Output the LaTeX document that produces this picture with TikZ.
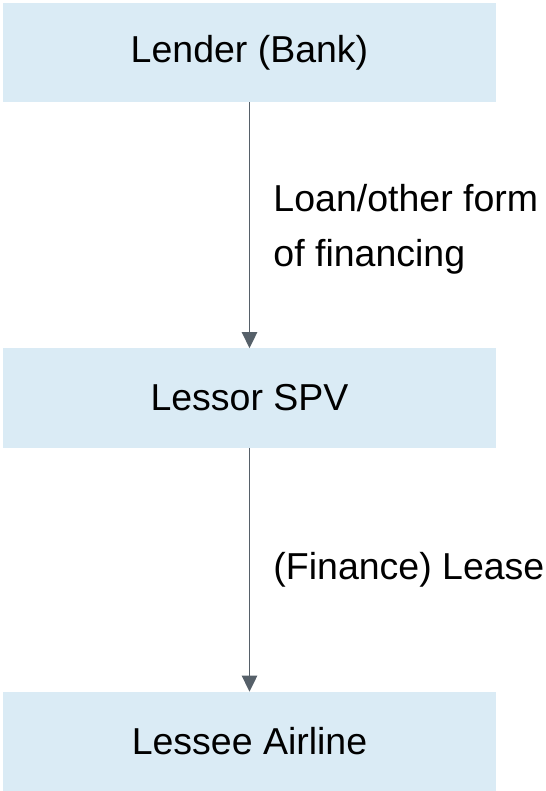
\documentclass[tikz,border=0pt]{standalone}
\usepackage{fontspec}
\setmainfont{Liberation Sans}
\usetikzlibrary{arrows.meta,positioning}
\definecolor{boxblue}{RGB}{218,235,245}
\definecolor{flowgray}{RGB}{86,96,105}
\begin{document}
\begin{tikzpicture}[
    party/.style={fill=boxblue, minimum width=14.79cm, minimum height=2.98cm,
      font=\fontsize{32}{38}\selectfont},
    flow/.style={draw=flowgray, line width=1.7pt,
      -{Triangle[length=0.48cm, width=0.46cm]}},
    flowlabel/.style={right=0.69cm, inner sep=0pt, align=left,
      font=\fontsize{32}{46.7}\selectfont}
  ]
  \useasboundingbox (0,0) rectangle (16.38,-23.73);
  % Parties
  \node[party] (lender) at (7.485,-1.575) {Lender (Bank)};
  \node[party] (spv) at (7.485,-11.94) {Lessor SPV};
  \node[party] (airline) at (7.485,-22.245) {Lessee Airline};
  % Flows
  \draw[flow] (lender) -- node[flowlabel, yshift=-0.12cm] {Loan/other form\\of financing} (spv);
  \draw[flow] (spv) -- node[flowlabel] {(Finance) Lease} (airline);
\end{tikzpicture}
\end{document}
